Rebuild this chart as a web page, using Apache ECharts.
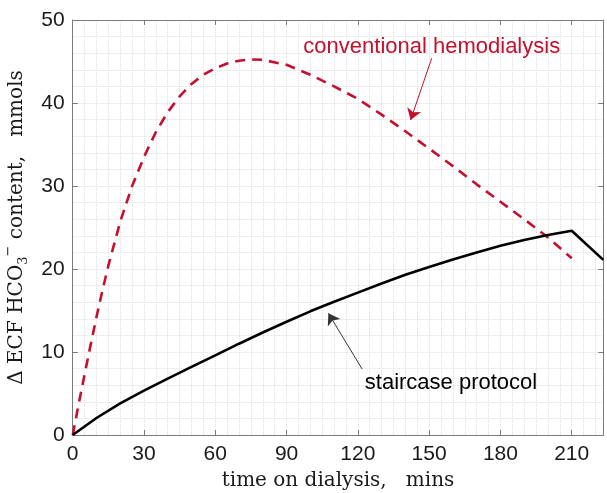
<!DOCTYPE html>
<html>
<head>
<meta charset="utf-8">
<script src="https://cdn.jsdelivr.net/npm/echarts@6/dist/echarts.min.js"></script>
<style>
html,body{margin:0;padding:0;background:#fff;}
#c{width:607px;height:493px;}
</style>
</head>
<body>
<div id="c"></div>
<script>
// ---- data ----
const redTimes  = [0,2.5,5,7.5,10,12.5,15,20,25,30,35,40,45,50,55,60,65,70,75,80,90,100,110,120,130,140,150,160,170,180,190,200,210];
const redValues = [0,3.7,7.3,10.8,14.2,17.4,20.4,25.7,30.0,33.5,36.5,38.9,40.8,42.3,43.4,44.2,44.75,45.1,45.25,45.2,44.6,43.4,42.0,40.5,38.6,36.6,34.5,32.4,30.2,28.1,26.0,23.8,21.3];
const blackTimes  = [0,10,20,30,40,50,60,70,80,90,100,110,120,130,140,150,160,170,180,190,200,210,223.3];
const blackValues = [0,2.05,3.8,5.35,6.8,8.2,9.6,11.0,12.35,13.65,14.9,16.05,17.15,18.25,19.3,20.25,21.15,22.0,22.8,23.5,24.1,24.6,21.1];
const xTickLabels = ['0','30','60','90','120','150','180','210'];
const yTickLabels = ['0','10','20','30','40','50'];
const redLabel = 'conventional hemodialysis';
const blackLabel = 'staircase protocol';
const redLabelAt = [151.1, 46.7];
const redArrow = [[151.1, 45.4], [142.2, 37.95]];
const blackLabelAt = [159.2, 6.3];
const blackArrow = [[121.8, 7.95], [107.6, 14.66]];

const X_MAX = 223.3;
const RED = '#c3102e';
const AXIS = '#7a7a7a';
const GRIDC = '#dedede';
const sans = 'Liberation Sans, Arial, Helvetica, sans-serif';
const serif = 'DejaVu Serif, Liberation Serif, serif';

const pair = (ts, vs) => ts.map((t, i) => [t, vs[i]]);

const chart = echarts.init(document.getElementById('c'), null, {renderer: 'canvas'});

const hidden = {show: false};
const option = {
  animation: false,
  grid: {left: 72.7, right: 3.7, top: 20, bottom: 58, containLabel: false, outerBoundsMode: 'none'},
  xAxis: [
    { // minor grid
      type: 'value', min: 0, max: X_MAX, interval: 5, position: 'bottom',
      axisLine: hidden, axisTick: hidden, axisLabel: hidden,
      splitLine: {show: true, lineStyle: {color: GRIDC, type: 'dotted', width: 1}}
    },
    { // main bottom
      type: 'value', min: 0, max: X_MAX, interval: 30, position: 'bottom',
      axisLine: {show: true, onZero: false, lineStyle: {color: AXIS, width: 1}},
      axisTick: {show: true, inside: true, length: 5, lineStyle: {color: AXIS}},
      axisLabel: {show: true, margin: 9, showMaxLabel: false, color: '#1a1a1a', fontSize: 21, fontFamily: sans,
        formatter: v => { const i = xTickLabels.indexOf(String(v)); return i >= 0 ? xTickLabels[i] : ''; }},
      splitLine: hidden,
      name: 'time on dialysis,   mins', nameLocation: 'middle', nameGap: 36,
      nameTextStyle: {color: '#1a1a1a', fontSize: 20, fontFamily: serif}
    },
    { // top box side
      type: 'value', min: 0, max: X_MAX, interval: 30, position: 'top',
      axisLine: {show: true, onZero: false, lineStyle: {color: AXIS, width: 1}},
      axisTick: {show: true, inside: true, length: 5, lineStyle: {color: AXIS}},
      axisLabel: hidden, splitLine: hidden
    }
  ],
  yAxis: [
    { // minor grid
      type: 'value', min: 0, max: 50, interval: 2, position: 'left',
      axisLine: hidden, axisTick: hidden, axisLabel: hidden,
      splitLine: {show: true, lineStyle: {color: GRIDC, type: 'dotted', width: 1}}
    },
    { // main left
      type: 'value', min: 0, max: 50, interval: 10, position: 'left',
      axisLine: {show: true, onZero: false, lineStyle: {color: AXIS, width: 1}},
      axisTick: {show: true, inside: true, length: 5, lineStyle: {color: AXIS}},
      axisLabel: {show: true, margin: 8, color: '#1a1a1a', fontSize: 21, fontFamily: sans,
        formatter: v => { const i = yTickLabels.indexOf(String(v)); return i >= 0 ? yTickLabels[i] : ''; }},
      splitLine: hidden,
      name: '{a|Δ ECF HCO}{sub|3}{sup|−}{a| content,   mmols}',
      nameLocation: 'middle', nameRotate: 90, nameGap: 31,
      nameTextStyle: {
        color: '#1a1a1a', fontFamily: serif, fontSize: 20,
        rich: {
          a: {fontSize: 20, fontFamily: serif, color: '#1a1a1a', lineHeight: 28},
          sub: {fontSize: 13, fontFamily: serif, color: '#1a1a1a', verticalAlign: 'bottom', lineHeight: 28},
          sup: {fontSize: 13, fontFamily: serif, color: '#1a1a1a', verticalAlign: 'top', lineHeight: 28}
        }
      }
    },
    { // right box side
      type: 'value', min: 0, max: 50, interval: 10, position: 'right',
      axisLine: {show: true, onZero: false, lineStyle: {color: AXIS, width: 1}},
      axisTick: {show: true, inside: true, length: 5, lineStyle: {color: AXIS}},
      axisLabel: hidden, splitLine: hidden
    }
  ],
  series: [
    {
      name: redLabel, type: 'line', xAxisIndex: 1, yAxisIndex: 1,
      data: pair(redTimes, redValues), showSymbol: false, symbol: 'none',
      lineStyle: {color: RED, width: 2.6, type: [10, 7]},
      z: 3,
      markLine: {
        silent: true, symbol: ['none', 'arrow'], symbolSize: 11,
        lineStyle: {color: RED, width: 1, type: 'solid'}, itemStyle: {color: RED}, label: {show: false},
        data: [[{coord: redArrow[0]}, {coord: redArrow[1]}]]
      },
      markPoint: {
        silent: true, symbol: 'circle', symbolSize: 1, itemStyle: {color: 'rgba(0,0,0,0)'},
        label: {show: true, position: 'inside', color: RED, fontSize: 22, fontFamily: sans, formatter: redLabel},
        data: [{coord: redLabelAt}]
      }
    },
    {
      name: blackLabel, type: 'line', xAxisIndex: 1, yAxisIndex: 1,
      data: pair(blackTimes, blackValues), showSymbol: false, symbol: 'none',
      lineStyle: {color: '#000', width: 2.6},
      z: 4,
      markLine: {
        silent: true, symbol: ['none', 'arrow'], symbolSize: 11,
        lineStyle: {color: '#333', width: 1, type: 'solid'}, itemStyle: {color: '#333'}, label: {show: false},
        data: [[{coord: blackArrow[0]}, {coord: blackArrow[1]}]]
      },
      markPoint: {
        silent: true, symbol: 'circle', symbolSize: 1, itemStyle: {color: 'rgba(0,0,0,0)'},
        label: {show: true, position: 'inside', color: '#000', fontSize: 22, fontFamily: sans, formatter: blackLabel},
        data: [{coord: blackLabelAt}]
      }
    }
  ]
};
chart.setOption(option);
</script>
</body>
</html>
